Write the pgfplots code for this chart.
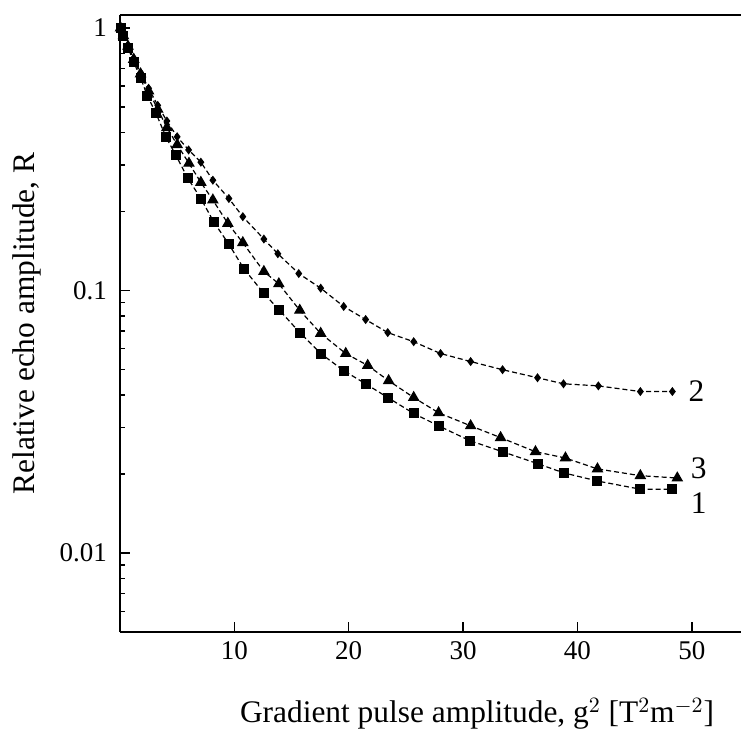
\documentclass[border=0pt]{standalone}
\usepackage{fontspec}
\setmainfont{Liberation Serif}
\usepackage{pgfplots}
\pgfplotsset{compat=1.18}
\begin{document}
\begin{tikzpicture}
\begin{semilogyaxis}[
  at={(0,0)}, anchor=south west,
  scale only axis, width=310.5pt, height=308.5pt,
  xmin=0, xmax=54.3, ymin=0.005, ymax=1.12,
  axis x line*=box, axis y line*=left,
  axis line style={line width=0.9pt},
  tick align=inside, xtick pos=bottom, ytick pos=left,
  xtick={10,20,30,40,50}, xticklabels={10,20,30,40,50},
  ytick={0.01,0.1,1}, yticklabels={0.01,0.1,1},
  minor ytick={0.005,0.006,0.007,0.008,0.009,0.02,0.03,0.04,0.05,0.06,0.07,0.08,0.09,0.2,0.3,0.4,0.5,0.6,0.7,0.8,0.9},
  major tick length=5pt, minor tick length=2.5pt,
  every tick/.style={black, line width=0.7pt},
  tick label style={font=\fontsize{13.5}{15}\selectfont},
  xticklabel style={yshift=-1pt},
  yticklabel style={xshift=-3pt},
  label style={font=\fontsize{15.7}{18}\selectfont},
  xlabel={Gradient pulse amplitude, g$^{2}$ [T$^{2}$m$^{-2}$]},
  xlabel style={at={(rel axis cs:0.575,0)}, anchor=center, yshift=-41pt},
  ylabel={Relative echo amplitude, R},
  ylabel style={at={(rel axis cs:0,0.5)}, anchor=center, yshift=46.5pt},
  clip=false,
]
\addplot[black, line width=0.6pt, dash pattern=on 2.5pt off 1.5pt,
  mark=square*, mark size=2.2pt, mark options={solid}] coordinates {
(0.05,1.0) (0.3,0.933) (0.7,0.841) (1.2,0.741) (1.8,0.646) (2.4,0.550)
(3.14,0.474) (4.02,0.384) (4.89,0.327) (5.94,0.267) (7.07,0.224)
(8.21,0.182) (9.52,0.150) (10.83,0.121) (12.58,0.0974) (13.89,0.0846)
(15.72,0.0691) (17.55,0.0575) (19.56,0.0495) (21.48,0.0441) (23.41,0.0391)
(25.68,0.0340) (27.86,0.0305) (30.57,0.0268) (33.45,0.0243) (36.51,0.0219)
(38.78,0.0202) (41.75,0.0188) (45.50,0.0175) (48.30,0.0175)
};
\addplot[black, line width=0.6pt, dash pattern=on 2.5pt off 1.5pt,
  mark=diamond*, mark size=1.8pt, mark options={solid}] coordinates {
(0.05,1.0) (0.3,0.93) (0.7,0.855) (1.2,0.767) (1.8,0.676) (2.5,0.589)
(3.3,0.507) (4.1,0.442) (5.0,0.385) (6.0,0.343) (7.07,0.308)
(8.12,0.263) (9.52,0.224) (10.74,0.191) (12.58,0.157) (13.80,0.138)
(15.63,0.116) (17.55,0.102) (19.56,0.0869) (21.48,0.0775) (23.41,0.0691)
(25.68,0.0638) (28.03,0.0575) (30.66,0.0536) (33.45,0.0499) (36.51,0.0465)
(38.78,0.0441) (41.83,0.0433) (45.50,0.0412) (48.30,0.0412)
};
\addplot[black, line width=0.6pt, dash pattern=on 2.5pt off 1.5pt,
  mark=triangle*, mark size=2.8pt, mark options={solid}] coordinates {
(0.05,1.0) (0.3,0.933) (0.7,0.851) (1.2,0.759) (1.8,0.668) (2.5,0.575)
(3.3,0.490) (4.1,0.417) (5.0,0.359) (6.03,0.305) (7.07,0.258)
(8.12,0.221) (9.43,0.180) (10.74,0.152) (12.58,0.118) (13.89,0.106)
(15.72,0.0840) (17.55,0.0686) (19.74,0.0575) (21.66,0.0518) (23.49,0.0453)
(25.68,0.0391) (27.86,0.0342) (30.66,0.0305) (33.28,0.0275) (36.33,0.0243)
(38.95,0.0230) (41.75,0.0209) (45.50,0.0197) (48.73,0.0193)
};
\node[font=\fontsize{15.7}{18}\selectfont] at (axis cs:50.4,0.0415) {2};
\node[font=\fontsize{15.7}{18}\selectfont] at (axis cs:50.6,0.0211) {3};
\node[font=\fontsize{15.7}{18}\selectfont] at (axis cs:50.6,0.0155) {1};
\end{semilogyaxis}
\pgfresetboundingbox
\path (-60pt,-51.5pt) rectangle (310.5pt,316pt);
\end{tikzpicture}
\end{document}
